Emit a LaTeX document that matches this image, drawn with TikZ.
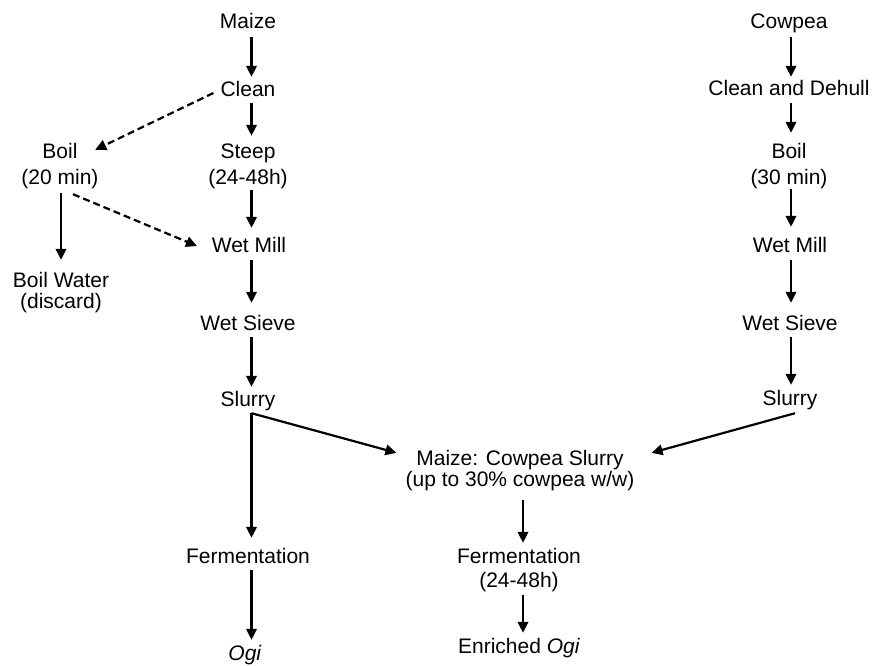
\documentclass[tikz,border=0pt]{standalone}
\usepackage{fontspec}
\setmainfont{Liberation Sans}
\usetikzlibrary{arrows.meta}
\begin{document}
\begin{tikzpicture}[x=1pt,y=-1pt,
  lbl/.style={inner sep=0pt, anchor=base, text height=15pt, text depth=0pt, font=\fontsize{21}{25}\selectfont},
  mline/.style 2 args={lbl, align=center, text height=#2pt, text depth=0pt, font=\fontsize{21}{#1}\selectfont},
  arr/.style={line width=2.2pt, -{Triangle[length=11pt,width=10.5pt]}},
  darr/.style={arr, dash pattern=on 7pt off 4pt},
]
\useasboundingbox[fill=white] (0,0) rectangle (885,665);

% left column (maize)
\node[lbl] (maize) at (248,28) {Maize};
\node[lbl] (clean) at (248,96.5) {Clean};
\node[mline={26.5}{41.5}] (steep) at (248,184.5) {Steep\\(24-48h)};
\node[lbl] (wmL) at (249,252) {Wet Mill};
\node[lbl] (wsL) at (248,330) {Wet Sieve};
\node[lbl] (slL) at (248,406) {Slurry};
\node[lbl] (fermL) at (248,563) {Fermentation};
\node[lbl] (ogi) at (245,660) {\textit{Ogi}};

% boil branch
\node[mline={26.5}{41.5}] (boilL) at (60,184.5) {Boil\\(20 min)};
\node[mline={21.5}{36.5}] (bw) at (61,308.5) {Boil Water\\(discard)};

% right column (cowpea)
\node[lbl] (cowpea) at (789,28) {Cowpea};
\node[lbl] (cd) at (789,95.5) {Clean and Dehull};
\node[mline={26.5}{41.5}] (boilR) at (789,184.5) {Boil\\(30 min)};
\node[lbl] (wmR) at (790,252) {Wet Mill};
\node[lbl] (wsR) at (790,330) {Wet Sieve};
\node[lbl] (slR) at (790,405) {Slurry};

% centre
\node[mline={21}{36}] (mc) at (520,486) {Maize: Cowpea Slurry\\(up to 30\% cowpea w/w)};
\node[mline={24.5}{39.5}] (fermR) at (519,587.5) {Fermentation\\(24-48h)};
\node[lbl] (enr) at (519,653) {Enriched \textit{Ogi}};

% left column arrows
\draw[arr, shorten <=9pt, shorten >=4.5pt] ([xshift=3.5pt]maize.south) -- ([xshift=3.5pt]clean.north);
\draw[arr, shorten <=6.5pt, shorten >=7pt] ([xshift=3.5pt]clean.south) -- ([xshift=3.5pt]steep.north);
\draw[arr, shorten <=5.5pt, shorten >=9pt] ([xshift=3.5pt]steep.south) -- ([xshift=2.5pt]wmL.north);
\draw[arr, shorten <=8pt, shorten >=12pt] ([xshift=2.5pt]wmL.south) -- ([xshift=3.5pt]wsL.north);
\draw[arr, shorten <=7pt, shorten >=4pt] ([xshift=3.5pt]wsL.south) -- ([xshift=3.5pt]slL.north);
\draw[arr, shorten <=7pt, shorten >=10pt] ([xshift=3.5pt]slL.south) -- ([xshift=3.5pt]fermL.north);
\draw[arr, shorten <=7pt, shorten >=5pt] ([xshift=3.5pt]fermL.south) -- ([xshift=6.5pt]ogi.north);
\draw[arr] ([xshift=3.5pt,yshift=-7pt]slL.south) -- ([xshift=-9pt,yshift=-3pt]mc.north west);

% boil branch arrows
\draw[darr] ([xshift=-7pt,yshift=-4pt]clean.west) -- ([xshift=-3.5pt,yshift=-7pt]boilL.north east);
\draw[darr] ([xshift=13pt,yshift=-9.5pt]boilL.south) -- ([xshift=-14.7pt,yshift=-1.5pt]wmL.west);
\draw[arr, shorten <=8.5pt, shorten >=12pt] ([xshift=1pt]boilL.south) -- (bw.north);

% right column arrows
\draw[arr, shorten <=9pt, shorten >=3.5pt] ([xshift=2pt]cowpea.south) -- ([xshift=2pt]cd.north);
\draw[arr, shorten <=7.5pt, shorten >=10pt] ([xshift=2pt]cd.south) -- ([xshift=2pt]boilR.north);
\draw[arr, shorten <=4.5pt, shorten >=10pt] ([xshift=2pt]boilR.south) -- ([xshift=1pt]wmR.north);
\draw[arr, shorten <=8pt, shorten >=12pt] ([xshift=1pt]wmR.south) -- ([xshift=1pt]wsR.north);
\draw[arr, shorten <=7pt, shorten >=5pt] ([xshift=1pt]wsR.south) -- ([xshift=1pt]slR.north);
\draw[arr] ([xshift=5pt,yshift=-8pt]slR.south) -- ([xshift=17pt,yshift=-3pt]mc.north east);

% centre arrows
\draw[arr, shorten <=14pt, shorten >=5pt] ([xshift=3pt]mc.south) -- ([xshift=4pt]fermR.north);
\draw[arr, shorten <=7.5pt, shorten >=5pt] ([xshift=4pt]fermR.south) -- ([xshift=4pt]enr.north);
\end{tikzpicture}
\end{document}
